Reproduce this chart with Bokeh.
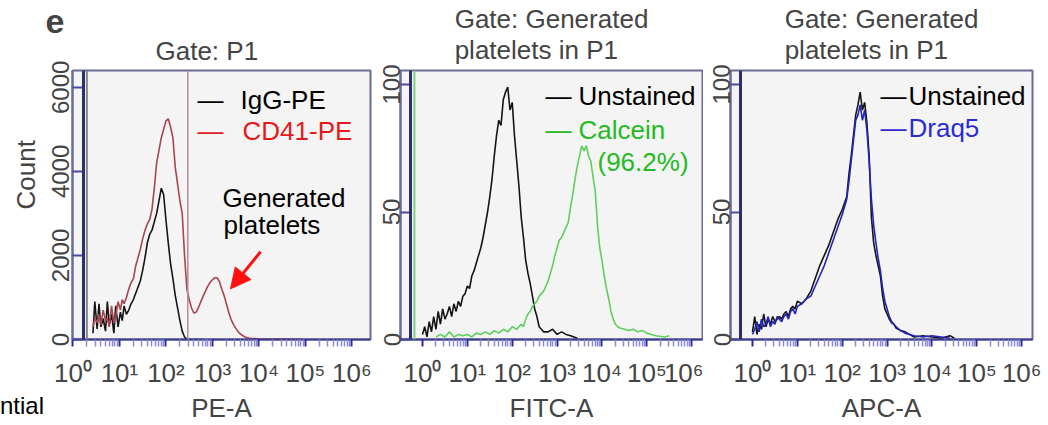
import numpy as np
from bokeh.plotting import figure
from bokeh.layouts import row, column
from bokeh.models import Range1d, FixedTicker, Span, Label, Arrow, NormalHead, Title, Div
from bokeh.embed import file_html
from bokeh.resources import INLINE

FONT = "Liberation Sans"

# ---------------- data (x in log10 decades, y in counts) ----------------
decades = [0, 1, 2, 3, 4, 5, 6]
decade_labels = ["10⁰", "10¹", "10²", "10³", "10⁴", "10⁵", "10⁶"]

# Panel 1: PE-A, gate P1
p1_ticks = [0, 2000, 4000, 6000]
igg_x = [0.43, 0.47, 0.52, 0.56, 0.60, 0.65, 0.70, 0.74, 0.78, 0.83, 0.88, 0.92, 0.97, 1.02, 1.06,
         1.10, 1.15, 1.20, 1.25, 1.30, 1.35, 1.40, 1.45, 1.50, 1.55, 1.60, 1.65, 1.70, 1.75, 1.80,
         1.85, 1.90, 1.95, 2.00, 2.05, 2.10, 2.15, 2.20, 2.25, 2.30, 2.35, 2.40, 2.45, 2.50, 2.80]
igg_y = [150, 900, 250, 850, 300, 500, 200, 900, 350, 600, 150, 800, 300, 650, 450,
         800, 600, 700, 850, 950, 1100, 1250, 1400, 1650, 1950, 2300, 2500, 2600, 2800, 3000,
         3300, 3600, 3450, 2850, 2300, 1800, 1450, 1050, 750, 450, 200, 60, 10, 0, 0]
cd41_x = [0.43, 0.47, 0.52, 0.56, 0.60, 0.65, 0.70, 0.74, 0.78, 0.83, 0.88, 0.92, 0.97, 1.02, 1.06,
          1.10, 1.15, 1.20, 1.25, 1.30, 1.35, 1.40, 1.45, 1.50, 1.55, 1.60, 1.65, 1.70, 1.75, 1.80,
          1.85, 1.90, 1.95, 2.00, 2.05, 2.10, 2.15, 2.20, 2.25, 2.30, 2.35, 2.40, 2.45, 2.50, 2.55,
          2.60, 2.65, 2.70, 2.75, 2.80, 2.85, 2.90, 2.95, 3.00, 3.05, 3.10, 3.15, 3.20, 3.25, 3.30,
          3.35, 3.40, 3.45, 3.50, 3.55, 3.60, 3.70, 3.80, 4.00, 4.30, 4.60, 4.95]
cd41_y = [300, 500, 400, 600, 350, 700, 450, 500, 300, 800, 400, 550, 900, 700, 950,
          850, 1000, 1200, 1350, 1450, 1750, 1950, 2150, 2400, 2600, 2750, 2850, 3100, 3600, 4200,
          4500, 4800, 5000, 5200, 5250, 5050, 4800, 4100, 3700, 3300, 3000, 2000, 1200, 950, 750,
          630, 650, 760, 900, 1030, 1150, 1270, 1360, 1420, 1470, 1470, 1380, 1200, 1050, 850,
          650, 480, 360, 270, 190, 130, 60, 30, 15, 10, 10, 5]
p1_gate_x = 2.47          # CD41-PE gate marker
p1_offscale_x = 0.30      # IgG-PE first bin off scale

# Panel 2: FITC-A, gate generated platelets
pct_ticks = [0, 50, 100]
unst2_x = [0.00, 0.05, 0.10, 0.15, 0.20, 0.25, 0.30, 0.35, 0.40, 0.45, 0.50, 0.55, 0.60, 0.65, 0.70,
           0.75, 0.80, 0.85, 0.90, 0.95, 1.00, 1.05, 1.10, 1.15, 1.20, 1.25, 1.30, 1.35, 1.40, 1.45,
           1.50, 1.55, 1.60, 1.65, 1.70, 1.75, 1.80, 1.85, 1.90, 1.95, 2.00, 2.05, 2.10, 2.15, 2.20,
           2.25, 2.30, 2.35, 2.40, 2.45, 2.50, 2.55, 2.60, 2.65, 2.70, 2.80, 2.90, 3.00, 3.10, 3.20,
           3.30, 3.45]
unst2_y = [2, 5, 1, 7, 3, 9, 4, 11, 6, 12, 8, 10, 13, 9, 14,
           11, 15, 13, 17, 18, 21, 20, 25, 27, 30, 33, 36, 40, 45, 50,
           56, 63, 72, 80, 86, 84, 94, 97, 99, 90, 93, 80, 70, 60, 48,
           40, 31, 26, 22, 17, 12, 9, 5, 4, 3, 3, 4, 2, 3, 2,
           1.5, 0.5]
calc_x = [0.30, 0.40, 0.50, 0.60, 0.70, 0.80, 0.90, 1.00, 1.10, 1.20, 1.30, 1.40, 1.50, 1.60, 1.70,
          1.80, 1.90, 2.00, 2.10, 2.20, 2.25, 2.30, 2.35, 2.40, 2.45, 2.50, 2.55, 2.60, 2.65, 2.70,
          2.75, 2.80, 2.85, 2.90, 2.95, 3.00, 3.05, 3.10, 3.15, 3.20, 3.25, 3.30, 3.35, 3.40, 3.45,
          3.50, 3.55, 3.60, 3.65, 3.70, 3.75, 3.80, 3.85, 3.90, 3.95, 4.00, 4.05, 4.10, 4.15, 4.20,
          4.25, 4.30, 4.35, 4.40, 4.50, 4.60, 4.70, 4.80, 4.90, 5.00, 5.10, 5.20, 5.40, 5.50]
calc_y = [1, 2, 1, 3, 1, 2, 1.5, 2, 1, 2.5, 2, 3, 2, 3.5, 2.5,
          4, 3, 5, 4, 6, 5, 8, 10, 11, 13, 14, 15, 17, 18, 19,
          21, 23, 26, 29, 33, 36, 39, 40, 42, 44, 46, 52, 57, 63, 68,
          72, 76, 74, 76, 72, 70, 64, 58, 45, 36, 31, 25, 20, 16, 11,
          8, 6, 5, 4.5, 4, 3.5, 4, 3, 3.5, 2.5, 2, 1.5, 1, 1.5]
p2_offscale_x = -0.18     # Calcein first bin off scale

# Panel 3: APC-A, gate generated platelets
unst3_x = [0.00, 0.05, 0.10, 0.15, 0.20, 0.25, 0.30, 0.35, 0.40, 0.45, 0.50, 0.55, 0.60, 0.65, 0.70,
           0.75, 0.80, 0.85, 0.90, 0.95, 1.00, 1.10, 1.20, 1.30, 1.40, 1.50, 1.60, 1.70, 1.80, 1.90,
           2.00, 2.10, 2.15, 2.20, 2.25, 2.30, 2.35, 2.40, 2.45, 2.50, 2.55, 2.60, 2.65, 2.70, 2.75,
           2.80, 2.85, 2.90, 2.95, 3.00, 3.05, 3.10, 3.15, 3.20, 3.30, 3.40, 3.50, 3.60, 3.80, 4.00,
           4.20, 4.40, 4.50]
unst3_y = [3, 9, 2, 6, 4, 10, 5, 8, 6, 9, 7, 8, 9, 8, 10,
           11, 9, 12, 13, 12, 15, 14, 16, 19, 24, 29, 33, 37, 42, 47,
           51, 56, 65, 72, 80, 88, 92, 97, 90, 93, 85, 72, 48, 38, 33,
           29, 25, 17, 12, 10, 8, 6.5, 6, 4.5, 3.5, 3, 2, 1, 1.5, 1,
           0.5, 1.5, 0.5]
draq_x = [0.00, 0.05, 0.10, 0.15, 0.20, 0.25, 0.30, 0.35, 0.40, 0.45, 0.50, 0.55, 0.60, 0.65, 0.70,
          0.75, 0.80, 0.85, 0.90, 0.95, 1.00, 1.10, 1.20, 1.30, 1.40, 1.50, 1.60, 1.70, 1.80, 1.90,
          2.00, 2.10, 2.15, 2.20, 2.25, 2.30, 2.35, 2.40, 2.45, 2.50, 2.55, 2.60, 2.65, 2.70, 2.75,
          2.80, 2.85, 2.90, 2.95, 3.00, 3.05, 3.10, 3.15, 3.20, 3.30, 3.40, 3.50, 3.60, 3.80, 4.00,
          4.20, 4.40]
draq_y = [2, 4, 7, 3, 8, 5, 6, 9, 5, 7, 6, 9, 8, 7, 9,
          10, 8, 11, 12, 10, 13, 14, 16, 17, 21, 25, 29, 34, 39, 44,
          49, 55, 62, 70, 78, 86, 88, 92, 86, 90, 82, 70, 55, 45, 38,
          32, 27, 20, 15, 12, 9, 7, 6, 5, 3.5, 2.5, 2, 1.5, 1, 1.5,
          1, 0.5]

# ---------------- layout helpers ----------------
H = 425
TOP, BOTTOM = 66, 83
FRAME_H = H - TOP - BOTTOM
FRAME_BOTTOM = TOP + FRAME_H
minor = [d + float(np.log10(k)) for d in range(6) for k in range(2, 10)]

BG = "#f4f4f4"
OUTLINE = "#6b6b93"
NAVY = "#2e2e6e"


def make_panel(width, left, right, xr, yr, yticks, xlabel, ystand):
    p = figure(width=width, height=H, x_range=Range1d(*xr), y_range=Range1d(*yr),
               output_backend="svg", toolbar_location=None,
               min_border_left=left, min_border_right=right,
               min_border_top=TOP, min_border_bottom=BOTTOM,
               background_fill_color=BG, border_fill_color="white",
               outline_line_color=OUTLINE, outline_line_width=2)
    p.grid.visible = False
    xa = p.xaxis[0]
    xa.ticker = FixedTicker(ticks=decades, minor_ticks=minor)
    xa.major_label_overrides = {d: lab for d, lab in zip(decades, decade_labels)}
    xa.major_label_text_font = FONT
    xa.major_label_text_font_size = "26px"
    xa.major_label_standoff = 11
    xa.axis_line_color = "#3b3b8f"
    xa.axis_line_width = 2
    xa.major_tick_line_color = "#2a2aa8"
    xa.major_tick_line_width = 2
    xa.major_tick_out = 7
    xa.major_tick_in = 0
    xa.minor_tick_line_color = "#8c8cd8"
    xa.minor_tick_line_width = 1.5
    xa.minor_tick_out = 7
    xa.minor_tick_in = 0
    xa.axis_label = xlabel
    xa.axis_label_text_font = FONT
    xa.axis_label_text_font_size = "26px"
    xa.axis_label_text_font_style = "normal"
    xa.axis_label_standoff = 2
    ya = p.yaxis[0]
    ya.ticker = FixedTicker(ticks=yticks)
    ya.major_label_orientation = "vertical"
    ya.major_label_text_font = FONT
    ya.major_label_text_font_size = "24px"
    ya.major_label_standoff = ystand
    ya.axis_line_color = OUTLINE
    ya.axis_line_width = 2
    ya.major_tick_line_color = "#4a4aa0"
    ya.major_tick_line_width = 2
    ya.major_tick_in = 10
    ya.major_tick_out = 0
    ya.minor_tick_line_color = None
    return p


def style_title(t, size="26px", bold=False, standoff=0, line_height=1.05, valign="bottom"):
    t.text_font = FONT
    t.text_font_size = size
    t.text_font_style = "bold" if bold else "normal"
    t.standoff = standoff
    t.text_line_height = line_height
    t.vertical_align = valign


def conv(xr, yr, frame_left, frame_w):
    def f(px, py):
        x = xr[0] + (px - frame_left) * (xr[1] - xr[0]) / frame_w
        y = yr[0] + (FRAME_BOTTOM - py) * (yr[1] - yr[0]) / FRAME_H
        return x, y
    return f


def label(p, c, px, py, text, color="black", size="26px"):
    x, y = c(px, py)
    p.add_layout(Label(x=x, y=y, text=text, text_font=FONT, text_font_size=size,
                       text_color=color, text_align="left", text_baseline="middle"))


# ---------------- panel 1 ----------------
xr1, yr1 = (-0.01, 6.4), (0, 6400)
p1 = make_panel(372, 72, 2, xr1, yr1, p1_ticks, "PE-A", 4)
# outer title line: panel letter; inner title line: gate
p1.title.text = "e"
p1.title.align = "left"
p1.title.offset = -27
style_title(p1.title, size="34px", bold=True)
gate1 = Title(text="Gate: P1", align="left", offset=83)
style_title(gate1, standoff=6, line_height=0.7, valign="top")
p1.add_layout(gate1, "above")
count = Title(text="Count", align="left", offset=130)
style_title(count, standoff=15)
p1.add_layout(count, "left")
c1 = conv(xr1, yr1, 72, 298)
p1.add_layout(Span(location=c1(83, 0)[0], dimension="height", line_color=NAVY, line_width=3))
p1.add_layout(Span(location=p1_offscale_x, dimension="height", line_color="#8a8a8a", line_width=2))
p1.add_layout(Span(location=p1_gate_x, dimension="height", line_color="#b58a9c", line_width=1.5))
p1.line(igg_x, igg_y, line_color="#151515", line_width=1.6)
p1.line(cd41_x, cd41_y, line_color="#a8454f", line_width=1.6)
label(p1, c1, 197, 96, "—")
label(p1, c1, 240, 96, "IgG-PE")
label(p1, c1, 197, 128, "—", color="#e31a1c")
label(p1, c1, 242, 128, "CD41-PE", color="#e31a1c")
label(p1, c1, 222, 197, "Generated")
label(p1, c1, 223, 225, "platelets")
ax0, ay0 = c1(260, 252)
ax1, ay1 = c1(230, 290)
p1.add_layout(Arrow(end=NormalHead(size=20, fill_color="#ff1010", line_color="#ff1010"),
                    x_start=ax0, y_start=ay0, x_end=ax1, y_end=ay1,
                    line_color="#ff1010", line_width=3))

# ---------------- panel 2 ----------------
xr2, yr2 = (-0.49, 6.24), (0, 105.5)
p2 = make_panel(331, 28, 1, xr2, yr2, pct_ticks, "FITC-A", 0)
p2.title.text = "Gate: Generated\nplatelets in P1"
p2.title.align = "center"
style_title(p2.title, standoff=6, valign="top")
c2 = conv(xr2, yr2, 400, 302)
p2.add_layout(Span(location=c2(410, 0)[0], dimension="height", line_color=NAVY, line_width=3))
p2.add_layout(Span(location=p2_offscale_x, dimension="height", line_color="#7fd07f", line_width=2))
p2.line(unst2_x, unst2_y, line_color="#151515", line_width=1.6)
p2.line(calc_x, calc_y, line_color="#5ccf5c", line_width=1.6)
label(p2, c2, 545, 92, "—")
label(p2, c2, 578, 92, "Unstained")
label(p2, c2, 545, 127, "—", color="#22bb22")
label(p2, c2, 578, 127, "Calcein", color="#22bb22")
label(p2, c2, 597, 160, "(96.2%)", color="#22bb22")

# ---------------- panel 3 ----------------
xr3, yr3 = (-0.49, 6.24), (0, 105.5)
p3 = make_panel(345, 27, 16, xr3, yr3, pct_ticks, "APC-A", 0)
p3.title.text = "Gate: Generated\nplatelets in P1"
p3.title.align = "center"
style_title(p3.title, standoff=6, valign="top")
c3 = conv(xr3, yr3, 730, 302)
p3.add_layout(Span(location=c3(740, 0)[0], dimension="height", line_color=NAVY, line_width=3))
p3.line(unst3_x, unst3_y, line_color="#151515", line_width=1.6)
p3.line(draq_x, draq_y, line_color="#2424b8", line_width=1.6)
label(p3, c3, 880, 92, "—")
label(p3, c3, 908, 92, "Unstained")
label(p3, c3, 880, 125, "—", color="#2b2bd6")
label(p3, c3, 908, 125, "Draq5", color="#2b2bd6")

# cut-off word from the neighbouring panel at the bottom left
frag = Div(text="ntial", width=60, height=30, margin=(-34, 0, 0, 0),
           styles={"font-family": FONT, "font-size": "24px", "color": "black", "line-height": "30px"})

layout = column(row(p1, p2, p3), frag, spacing=0)
open("out.html", "w").write(file_html(layout, INLINE))
